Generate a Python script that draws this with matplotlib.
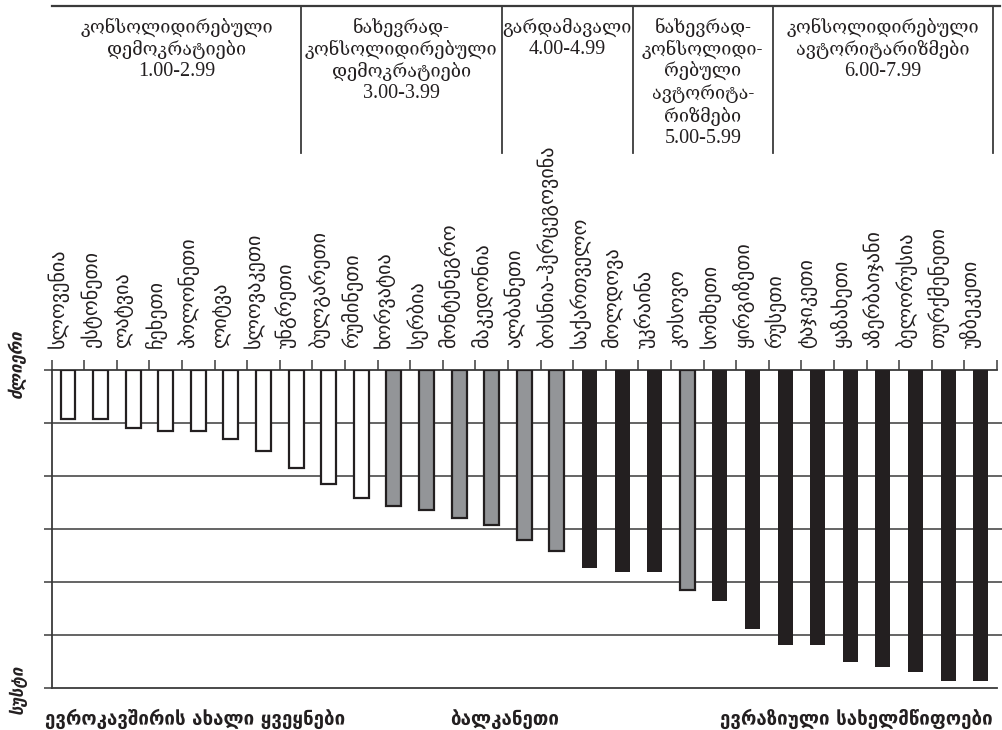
import numpy as np
import matplotlib.pyplot as plt
from matplotlib.lines import Line2D

countries = ['სლოვენია', 'ესტონეთი', 'ლატვია', 'ჩეხეთი', 'პოლონეთი', 'ლიტვა',
             'სლოვაკეთი', 'უნგრეთი', 'ბულგარეთი', 'რუმინეთი', 'ხორვატია', 'სერბია',
             'მონტენეგრო', 'მაკედონია', 'ალბანეთი', 'ბოსნია-ჰერცეგოვინა', 'საქართველო',
             'მოლდოვა', 'უკრაინა', 'კოსოვო', 'სომხეთი', 'ყირგიზეთი', 'რუსეთი',
             'ტაჯიკეთი', 'ყაზახეთი', 'აზერბაიჯანი', 'ბელორუსია', 'თურქმენეთი', 'უზბეკეთი']
scores = [1.92, 1.92, 2.10, 2.16, 2.16, 2.30, 2.53, 2.84, 3.15, 3.41, 3.56, 3.65,
          3.80, 3.92, 4.21, 4.41, 4.73, 4.81, 4.81, 5.16, 5.35, 5.88, 6.18, 6.18,
          6.50, 6.60, 6.70, 6.87, 6.87]
# region: 0 = new EU members, 1 = Balkans, 2 = Eurasia
region = [0]*10 + [1]*6 + [2, 2, 2, 1] + [2]*9
region_names = ['ევროკავშირის ახალი ყვეყნები', 'ბალკანეთი', 'ევრაზიული სახელმწიფოები']

header_names = [
    ['კონსოლიდირებული', 'დემოკრატიები'],
    ['ნახევრად-', 'კონსოლიდირებული', 'დემოკრატიები'],
    ['გარდამავალი'],
    ['ნახევრად-', 'კონსოლიდი-', 'რებული', 'ავტორიტა-', 'რიზმები'],
    ['კონსოლიდირებული', 'ავტორიტარიზმები'],
]
header_ranges = ['1.00-2.99', '3.00-3.99', '4.00-4.99', '5.00-5.99', '6.00-7.99']

W, H = 1002, 730
DARK = '#231f20'
LINE = '#3a3a3a'
fills = ['white', '#939598', DARK]
lws = [1.6, 1.6, 0]

fig = plt.figure(figsize=(W/100, H/100), dpi=100)
ax = fig.add_axes([51.7/W, 1-688/H, (997-51.7)/W, (688-370)/H])

x = np.arange(len(countries))
vals = np.array(scores)
for reg in range(3):
    m = np.array(region) == reg
    ax.bar(x[m], vals[m]-1, bottom=1, width=0.46, color=fills[reg],
           edgecolor=DARK, linewidth=lws[reg], zorder=3)

for g in range(2, 7):
    ax.axhline(g, xmin=0, xmax=1.006, color=LINE, lw=1.1, zorder=1, clip_on=False)

ax.set_xlim(-0.5, len(countries)-0.5)
ax.set_ylim(7, 1)
ax.set_yticks(range(1, 8))
ax.set_yticklabels([])
ax.xaxis.tick_top()
ax.set_xticks(np.arange(len(countries)+1)-0.5)
ax.set_xticklabels([])
ax.tick_params(axis='x', direction='out', length=7, width=1.1, color=LINE)
ax.tick_params(axis='y', direction='out', length=6, width=1.1, color=LINE)
ax.spines['right'].set_visible(False)
for s in ['top', 'left', 'bottom']:
    ax.spines[s].set_color(LINE)
    ax.spines[s].set_linewidth(1.3)

trans = ax.get_xaxis_transform()
for i, name in enumerate(countries):
    ax.text(i-0.3, 1.07, name, rotation=90, ha='center', va='bottom',
            fontsize=14.5, family='DejaVu Sans', color=DARK, transform=trans)

# side labels
fig.text(18/W, 1-365/H, 'ძლიერი', rotation=90, ha='center', va='center',
         fontsize=12, fontweight='bold', style='italic', color=DARK)
fig.text(18/W, 1-690/H, 'სუსტი', rotation=90, ha='center', va='center',
         fontsize=12, fontweight='bold', style='italic', color=DARK)

# region labels below
for name, cx in zip(region_names, [195, 505, 856]):
    fig.text(cx/W, 1-719/H, name, ha='center', va='center', fontsize=13.5,
             fontweight='bold', color=DARK)

# header table
col_edges = [52, 301, 501.7, 633, 772.7, 993]
fig.add_artist(Line2D([52/W, 1000/W], [1-6/H, 1-6/H], color=LINE, lw=1.6))
for xe in col_edges[1:]:
    fig.add_artist(Line2D([xe/W, xe/W], [1-6/H, 1-153/H], color=LINE, lw=1.3))
for k in range(len(header_names)):
    cx = (col_edges[k] + col_edges[k+1]) / 2
    lines = header_names[k]
    for j, ln in enumerate(lines):
        fig.text(cx/W, 1-(27+22.3*j)/H, ln, ha='center', va='center',
                 fontsize=13, family='DejaVu Serif', color=DARK)
    fig.text(cx/W, 1-(27+22.3*len(lines))/H, header_ranges[k], ha='center',
             va='center', fontsize=14.5, family='Liberation Serif', color=DARK)

fig.savefig('out.png', dpi=100)
